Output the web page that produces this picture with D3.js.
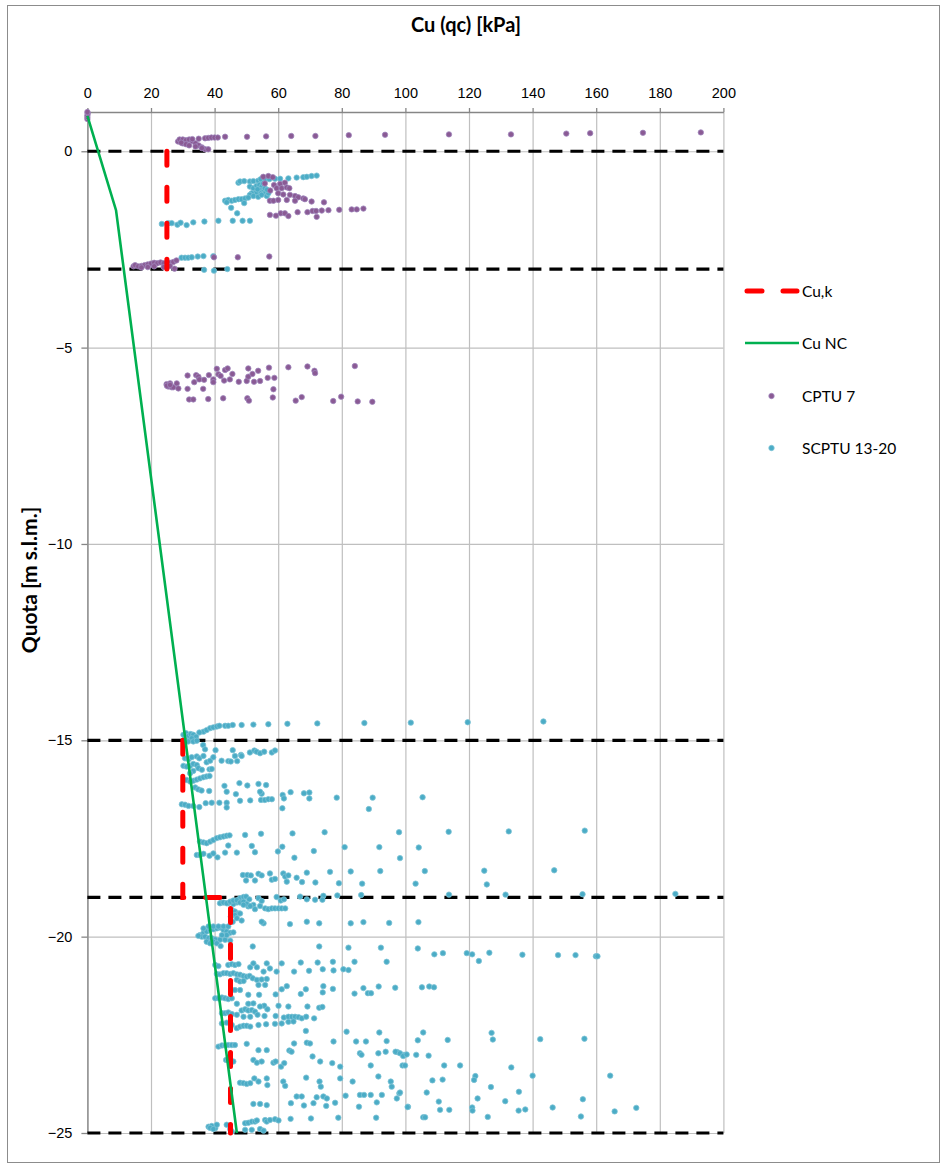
<!DOCTYPE html>
<html>
<head>
<meta charset="utf-8">
<script src="https://cdn.jsdelivr.net/npm/d3@7"></script>
<style>
  body { margin: 0; background: #fff; }
  svg { font-family: Lato, "Open Sans", sans-serif; }
</style>
</head>
<body>
<svg id="chart" width="947" height="1166"></svg>
<script>
// axis ticks
const xTicks = [0, 20, 40, 60, 80, 100, 120, 140, 160, 180, 200];
const yTicks = [0, -5, -10, -15, -20, -25];

// layer boundaries (black dashed lines)
const layerDepths = [0, -3, -15, -19, -25];

// Cu,k design profile (two separate pieces)
const cuK = [
  [[25, 0], [25, -3]],
  [[30, -15], [30, -19], [45, -19], [45, -25]]
];

// Cu NC line
const cuNC = [[0, 0.9], [9, -1.5], [47, -25]];

// CPTU 7 points [Cu, quota]
const cptu7 = [
  [0, 0.82], [0, 0.87], [0, 0.92], [0.1, 0.97], [0, 1.0],
  [28.5, 0.25], [29, 0.3], [30, 0.3], [31, 0.28], [32, 0.3], [33, 0.26], [34, 0.2], [35, 0.15], [36, 0.1],
  [37, 0.05], [38, 0.05], [33, 0.31], [35, 0.32], [37, 0.33], [38, 0.34], [39, 0.35], [40, 0.35], [41, 0.35],
  [30, 0.2], [31, 0.18], [32, 0.15], [34, 0.12], [36, 0.08], [29.5, 0.22],
  [43.3, 0.37], [50.2, 0.37], [56.2, 0.38], [64.1, 0.39], [71.7, 0.39], [82.2, 0.41], [93.6, 0.42],
  [113.7, 0.43], [133.2, 0.43], [150.6, 0.45], [158.1, 0.46], [174.7, 0.47], [192.9, 0.48],
  [55.3, -0.65], [56.9, -0.63], [58.3, -0.66], [55.8, -0.82], [58.7, -0.86], [60.6, -0.83], [62.1, -0.8],
  [59.5, -0.94], [61.1, -0.94], [62.7, -0.92], [63.5, -0.94], [60.0, -1.07], [61.6, -1.1], [63.7, -1.11],
  [65.3, -1.14], [66.3, -1.17], [67.9, -1.2], [68.4, -1.22], [70.5, -1.28], [74.4, -1.3], [57.4, -1.26],
  [58.5, -1.26], [60.0, -1.24], [62.7, -1.24], [65.3, -1.26], [57.4, -1.62], [59.3, -1.64], [60.8, -1.58],
  [62.1, -1.58], [63.2, -1.65], [66.1, -1.55], [69.2, -1.55], [70.8, -1.52], [71.9, -1.52], [73.7, -1.51],
  [75.8, -1.5], [79.2, -1.49], [83.1, -1.48], [84.7, -1.48], [86.8, -1.46], [72.1, -1.67], [57.5, -1.0],
  [14.5, -2.93], [15, -2.9], [16, -2.93], [17, -2.92], [18, -2.9], [19, -2.88], [20, -2.86], [21, -2.84],
  [22, -2.85], [23, -2.83], [24, -2.85], [26, -2.84], [27, -2.82], [28, -2.78], [17, -2.96], [19, -2.95],
  [21, -2.93], [24, -2.95], [26, -2.92], [27.4, -2.99], [39.8, -2.7], [47.3, -2.7], [57.2, -2.68],
  [24.9, -5.93], [25.4, -5.99], [26.0, -5.91], [26.5, -6.01], [27.0, -6.01], [28.1, -5.91], [28.6, -6.04],
  [25, -5.97], [26, -5.95], [31.5, -5.71], [31.5, -6.05], [32.0, -6.32], [33.3, -6.32], [33.6, -5.88],
  [34.2, -5.7], [34.9, -5.74], [35.2, -5.81], [36.4, -6.05], [36.7, -5.82], [38.0, -6.31], [38.2, -5.7],
  [39.6, -5.81], [39.6, -5.88], [40.7, -5.54], [41.2, -5.68], [41.9, -5.72], [42.7, -6.29], [43.0, -5.84],
  [43.3, -5.57], [44.1, -5.53], [44.8, -5.81], [45.6, -5.67], [47.6, -5.87], [50.1, -5.85], [50.3, -6.29],
  [50.6, -5.53], [50.8, -6.35], [50.6, -5.74], [51.9, -5.67], [52.4, -5.87], [53.7, -5.59], [54.3, -5.85],
  [56.7, -5.77], [57.1, -5.51], [58.3, -6.27], [58.5, -6.06], [58.8, -5.77], [63.2, -5.5], [65.5, -6.35],
  [67.4, -6.26], [69.2, -5.48], [71.4, -5.59], [71.6, -5.65], [77.3, -6.36], [79.8, -6.25], [84.1, -5.47],
  [85.0, -6.37], [89.6, -6.38]
];

// SCPTU 13-20 points [Cu, quota]
const scptu = [
  // upper layer
  [47.5, -0.8], [48.0, -0.77], [49.3, -0.76], [51.1, -0.77], [52.2, -0.76], [53.7, -0.75], [54.5, -0.71],
  [55.8, -0.71], [57.2, -0.71], [59.0, -0.7], [60.6, -0.7], [63.2, -0.69], [65.8, -0.67], [67.9, -0.66],
  [69.0, -0.65], [70.5, -0.63], [72.1, -0.62],
  [51.1, -0.9], [52.2, -0.94], [53.2, -0.88], [54.1, -0.86], [54.8, -0.9], [54.3, -0.99], [55.3, -1.03],
  [55.8, -1.07], [54.3, -1.07], [53.0, -1.05], [51.7, -1.07], [51.1, -1.11], [52.2, -1.14], [53.7, -1.16],
  [54.8, -1.11], [56.4, -1.14], [56.9, -1.07], [55.8, -0.94], [55.3, -0.82], [53.5, -0.97], [56.5, -0.98],
  [43.3, -1.26], [44.3, -1.24], [45.4, -1.26], [46.4, -1.24], [47.5, -1.22], [48.5, -1.22], [49.6, -1.2],
  [50.6, -1.18], [49.3, -1.32], [45.2, -1.44], [47.1, -1.58], [43.8, -1.3],
  [23.4, -1.85], [25.4, -1.83], [26.5, -1.83], [28.3, -1.87], [29.3, -1.82], [31.2, -1.88], [33.3, -1.81],
  [36.8, -1.79], [41.2, -1.77], [45.7, -1.77], [48.8, -1.77], [51.1, -1.77],
  [29.6, -2.71], [30.7, -2.71], [31.7, -2.71], [32.8, -2.7], [34.7, -2.68], [36.5, -2.67], [39.6, -2.67],
  [36.7, -3.02], [39.8, -3.04], [44.0, -3.0],
  // -14.5 .. -15.5
  [36.5, -14.78], [37.5, -14.74], [38.6, -14.69], [39.6, -14.67], [40.7, -14.65], [41.5, -14.63],
  [43.3, -14.63], [44.3, -14.63], [45.7, -14.61], [48.5, -14.61], [52.2, -14.6], [56.9, -14.59],
  [62.9, -14.58], [72.3, -14.57], [87.1, -14.56], [101.7, -14.55], [119.6, -14.54], [143.4, -14.52],
  [30.2, -14.86], [31.0, -14.82], [31.7, -14.89], [32.5, -14.84], [33.3, -14.86], [34.2, -14.91],
  [32.8, -14.95], [30.7, -14.97], [31.7, -15.03], [33.3, -15.03], [34.4, -15.01], [35.2, -14.8], [36.4, -15.12],
  [37.0, -15.23], [40.3, -15.25], [45.7, -15.25], [48.3, -15.37], [51.1, -15.31], [52.5, -15.26],
  [53.2, -15.29], [54.3, -15.33], [55.6, -15.29], [58.0, -15.31], [59.0, -15.26], [46.4, -15.4],
  [47.1, -15.53], [44.3, -15.53], [45.1, -15.54], [42.2, -15.52], [48.5, -15.4],
  [30.7, -15.46], [31.8, -15.48], [32.8, -15.43], [34.4, -15.41], [35.2, -15.46], [36.5, -15.4],
  [37.5, -15.56], [38.6, -15.52], [39.6, -15.43], [30.2, -15.65], [31.2, -15.67], [32.3, -15.65],
  [33.3, -15.6], [34.4, -15.63], [34.9, -15.71], [36.0, -15.75], [38.4, -15.74], [39.1, -15.73],
  [33.3, -15.78], [32.3, -15.84], [31.2, -16.01], [32.3, -16.05], [33.3, -16.03], [34.4, -16.0],
  [35.4, -15.97], [36.5, -15.94], [37.5, -15.92], [38.4, -15.91], [33.9, -16.2], [34.9, -16.25],
  [35.9, -16.28], [38.3, -16.29],
  // -16 .. -17
  [43.1, -16.16], [43.8, -16.31], [46.7, -16.37], [47.8, -16.09], [50.3, -16.15], [53.8, -16.11],
  [54.8, -16.36], [54.3, -16.31], [56.2, -16.14], [48.0, -16.54], [51.2, -16.53], [54.6, -16.52],
  [55.8, -16.52], [56.9, -16.5], [58.0, -16.5], [61.4, -16.39], [61.8, -16.48], [63.9, -16.32],
  [68.1, -16.35], [69.8, -16.33], [69.8, -16.48], [61.3, -16.73], [78.4, -16.46], [89.7, -16.46],
  [88.5, -16.75], [105.4, -16.45],
  [29.7, -16.63], [30.7, -16.64], [31.8, -16.67], [33.3, -16.67], [35.2, -16.7], [37.2, -16.6],
  [39.1, -16.59], [41.5, -16.59], [43.8, -16.59], [43.8, -16.71],
  // -17.3 .. -18
  [35.4, -17.58], [36.5, -17.6], [37.5, -17.62], [38.6, -17.58], [39.6, -17.54], [40.7, -17.49],
  [41.7, -17.47], [42.8, -17.45], [43.8, -17.43], [44.7, -17.42], [49.6, -17.41], [54.6, -17.38],
  [34.4, -17.92], [35.4, -17.92], [36.5, -17.89], [38.4, -17.94], [39.6, -17.88], [40.9, -17.98],
  [43.3, -17.86], [44.3, -17.68], [47.0, -17.86], [51.7, -17.69], [52.7, -17.85], [59.9, -17.83],
  [61.3, -17.71], [64.5, -17.37], [65.1, -17.99], [71.2, -17.82], [74.6, -17.34], [80.9, -17.72],
  [91.8, -17.72], [98.0, -17.34], [98.3, -18.0], [104.2, -17.73], [113.6, -17.33], [132.5, -17.32],
  [156.4, -17.3],
  // -18.3 .. -18.7
  [48.9, -18.43], [50.3, -18.43], [51.4, -18.44], [49.9, -18.57], [52.7, -18.57], [53.8, -18.4],
  [54.8, -18.44], [57.4, -18.39], [58.0, -18.55], [59.0, -18.53], [61.6, -18.39], [62.2, -18.47],
  [63.2, -18.44], [62.7, -18.6], [65.8, -18.5], [67.5, -18.61], [69.0, -18.37], [71.7, -18.62],
  [76.3, -18.35], [79.1, -18.64], [82.8, -18.34], [86.4, -18.65], [92.1, -18.33], [103.2, -18.65],
  [106.1, -18.33], [124.8, -18.32], [125.6, -18.67], [146.8, -18.31],
  // -18.9 .. -19.7
  [113.7, -18.93], [131.5, -18.93], [155.7, -18.92], [184.9, -18.91],
  [48.0, -19.02], [49.1, -18.99], [49.9, -18.98], [50.9, -19.05], [47.0, -19.13], [45.9, -19.17],
  [44.3, -19.15], [42.2, -19.13], [49.6, -19.15], [50.6, -19.23], [52.2, -19.19], [53.8, -19.02],
  [54.8, -19.09], [55.9, -19.28], [56.9, -19.3], [58.0, -19.28], [59.0, -19.28], [60.1, -19.28],
  [61.1, -19.28], [62.2, -19.28], [59.5, -18.99], [60.8, -19.08], [61.8, -19.05], [66.9, -18.98],
  [69.0, -19.05], [71.6, -19.06], [74.2, -18.96], [73.9, -19.06], [78.6, -18.95], [86.1, -18.94],
  [41.7, -19.15], [42.8, -19.13], [43.8, -19.15], [44.9, -19.11], [45.9, -19.08], [47.0, -19.07],
  [48.0, -19.13], [49.1, -19.11], [50.1, -19.17], [51.2, -19.22], [45.4, -19.32], [46.4, -19.36],
  [47.5, -19.41], [46.4, -19.45], [45.1, -19.49], [47.0, -19.53], [48.5, -19.59], [45.7, -19.62],
  [48.0, -19.41], [49.1, -19.19], [52.7, -19.3], [54.3, -19.22], [55.4, -19.66], [54.8, -19.62],
  [63.7, -19.68], [69.0, -19.62], [72.9, -19.66], [82.8, -19.66], [86.8, -19.63], [94.9, -19.65],
  [104.1, -19.63],
  // -19.7 .. -20.3
  [35.4, -19.96], [36.5, -19.91], [37.5, -19.87], [38.6, -19.83], [39.6, -19.81], [40.7, -19.79],
  [41.7, -19.77], [42.8, -19.83], [43.8, -19.87], [44.9, -19.9], [45.9, -19.89], [36.0, -20.0],
  [37.0, -20.0], [38.1, -20.04], [39.1, -20.04], [40.2, -20.07], [37.5, -20.13], [38.6, -20.17],
  [39.6, -20.13], [41.7, -20.08], [43.3, -20.08], [44.9, -20.1], [43.8, -19.96], [42.3, -19.96],
  [38.1, -19.74], [39.6, -19.74], [41.2, -19.74], [42.8, -19.74], [44.3, -19.74], [34.9, -19.98],
  [36.5, -19.79], [40.7, -20.17], [41.9, -20.24], [52.0, -20.25],
  // -20.2 .. -21
  [40.2, -20.72], [41.2, -20.75], [44.3, -20.72], [45.4, -20.7], [46.4, -20.72], [47.5, -20.7],
  [51.2, -20.78], [52.2, -20.68], [53.3, -20.78], [56.4, -20.68], [57.4, -20.81], [55.4, -20.89],
  [59.5, -20.89], [61.1, -20.68], [65.0, -20.89], [67.1, -20.66], [69.7, -20.87], [72.4, -20.66],
  [72.9, -20.25], [74.0, -20.83], [77.4, -20.86], [77.2, -20.64], [80.5, -20.83], [82.1, -20.85],
  [84.0, -20.64], [82.1, -20.28], [92.3, -20.28], [94.1, -20.64], [103.9, -20.3], [109.1, -20.45],
  [111.8, -20.42], [119.3, -20.42], [121.0, -20.45], [123.1, -20.62], [126.4, -20.41], [136.8, -20.46],
  [148.0, -20.47], [153.5, -20.47], [159.9, -20.5], [160.4, -20.5],
  // -21 .. -21.5
  [40.7, -20.95], [41.7, -20.96], [42.8, -20.93], [43.8, -20.93], [44.9, -20.95], [45.9, -20.93],
  [47.0, -20.96], [48.0, -20.97], [49.1, -21.0], [50.1, -21.02], [51.0, -21.0], [52.0, -21.06],
  [53.3, -21.1], [54.8, -21.09], [56.4, -21.08], [47.0, -21.1], [48.0, -21.14], [49.1, -21.13],
  [53.8, -21.23], [55.9, -21.23], [46.4, -21.36], [48.0, -21.36], [50.6, -21.48], [54.0, -21.48],
  [59.2, -21.47], [61.1, -21.34], [62.7, -21.26], [67.1, -21.46], [68.7, -21.34], [74.0, -21.42],
  [74.2, -21.26], [77.2, -21.33], [84.0, -21.45], [86.8, -21.31], [88.2, -21.44], [89.2, -21.44],
  [91.6, -21.27], [96.8, -21.3], [105.2, -21.29], [107.5, -21.27], [109.0, -21.29],
  // -21.5 .. -22.5
  [40.2, -21.57], [41.2, -21.57], [42.3, -21.55], [43.3, -21.57], [44.3, -21.59], [45.4, -21.57],
  [42.3, -21.95], [43.3, -21.95], [44.3, -21.93], [45.4, -21.97], [47.0, -21.99], [48.5, -21.88],
  [49.6, -21.85], [50.6, -21.88], [51.7, -21.87], [52.7, -21.91], [53.5, -21.99], [55.6, -21.76],
  [56.6, -21.85], [60.1, -21.76], [63.2, -21.78], [69.2, -21.78], [72.9, -21.81], [73.9, -21.79],
  [55.7, -22.02], [59.2, -22.02], [61.8, -22.06], [63.2, -22.04], [64.3, -22.04], [65.3, -22.04],
  [66.4, -22.05], [67.4, -22.08], [68.8, -22.04], [71.3, -22.08], [42.3, -22.21], [43.8, -22.19],
  [45.4, -22.25], [47.0, -22.33], [48.0, -22.29], [49.1, -22.27], [50.1, -22.27], [51.2, -22.29],
  [53.8, -22.25], [56.2, -22.23], [59.0, -22.22], [61.1, -22.21], [63.2, -22.17], [64.8, -22.16],
  [68.7, -22.4], [81.5, -22.42], [91.8, -22.44], [47.0, -21.71], [50.6, -21.71], [52.2, -21.7],
  [54.3, -21.78], [49.1, -22.04], [51.2, -22.04],
  [105.6, -22.44], [103.9, -22.64], [113.3, -22.63], [127.1, -22.45], [127.5, -22.62], [142.4, -22.61],
  [156.3, -22.6],
  // -22.5 .. -23.4
  [41.2, -22.8], [42.3, -22.77], [43.3, -22.77], [44.3, -22.76], [45.4, -22.76], [46.4, -22.76],
  [43.6, -23.14], [44.3, -23.14], [45.1, -23.18], [45.9, -23.18], [50.1, -22.73], [53.8, -22.89],
  [56.4, -22.89], [65.0, -22.72], [69.0, -22.7], [70.0, -22.72], [77.4, -22.67], [84.5, -22.67],
  [87.6, -22.67], [94.1, -22.66], [97.5, -22.94], [99.6, -23.01], [103.4, -23.01], [52.2, -23.14],
  [53.3, -23.21], [54.8, -23.18], [58.5, -23.21], [59.2, -23.18], [60.9, -23.31], [61.9, -23.22],
  [63.5, -22.9], [64.2, -22.93], [70.8, -23.05], [73.2, -23.18], [77.0, -23.22], [79.5, -23.31],
  [85.7, -22.97], [86.2, -23.01], [89.1, -23.28], [91.5, -22.97], [93.8, -22.93], [96.9, -22.93],
  [98.3, -22.97], [99.3, -23.04], [100.4, -23.0], [107.3, -23.03], [99.1, -23.28], [99.9, -23.28],
  [112.2, -23.28], [117.2, -23.28], [133.3, -23.33],
  // -23.5 .. -24.5
  [48.0, -23.72], [49.1, -23.73], [50.1, -23.75], [51.2, -23.73], [52.5, -23.61], [53.8, -23.69],
  [56.4, -23.61], [56.6, -23.78], [61.6, -23.69], [62.2, -23.8], [68.8, -23.59], [73.0, -23.69],
  [73.4, -23.82], [79.5, -23.61], [83.4, -23.69], [85.7, -24.03], [87.0, -24.03], [89.1, -24.03],
  [91.5, -23.56], [92.6, -24.03], [95.4, -23.69], [95.7, -23.82], [97.3, -24.12], [98.1, -23.99],
  [140.0, -23.54], [164.4, -23.54], [122.0, -23.55], [121.6, -23.65], [108.5, -23.66], [111.7, -23.64],
  [126.9, -23.83], [106.7, -23.97], [98.3, -23.97], [135.7, -23.95],
  [52.2, -24.26], [54.3, -24.26], [56.4, -24.29], [64.0, -24.24], [65.8, -24.07], [67.4, -24.07],
  [68.1, -24.3], [71.1, -24.24], [72.1, -24.09], [74.2, -24.07], [75.1, -24.31], [75.3, -24.12],
  [77.9, -24.23], [81.2, -24.05], [85.4, -24.33], [91.0, -24.22], [100.8, -24.33], [110.5, -24.2],
  [122.7, -24.12], [131.4, -24.19], [155.8, -24.14], [100.7, -24.34], [110.9, -24.41], [113.8, -24.41],
  [121.0, -24.35], [121.1, -24.43], [135.6, -24.43], [137.7, -24.4], [146.3, -24.35], [165.8, -24.45],
  [172.6, -24.36],
  // -24.5 .. -25
  [105.6, -24.6], [90.8, -24.61], [78.9, -24.61], [70.3, -24.63], [63.9, -24.64], [106.2, -24.6],
  [125.9, -24.59], [155.2, -24.58],
  [38.1, -24.84], [39.1, -24.82], [40.2, -24.88], [40.7, -24.79], [43.8, -24.79], [44.9, -24.9],
  [49.6, -24.75], [50.6, -24.74], [51.7, -24.71], [52.7, -24.71], [53.3, -24.68], [55.9, -24.67],
  [56.4, -24.71], [57.4, -24.67], [59.0, -24.65], [60.1, -24.68], [49.6, -24.92], [51.7, -24.92],
  [54.3, -24.9], [55.4, -24.94], [45.4, -24.96], [38.6, -24.87], [39.6, -24.9]
];

const svg = d3.select("#chart");

// chart frame
svg.append("rect")
  .attr("x", 7.5).attr("y", 5.5)
  .attr("width", 932).attr("height", 1157)
  .attr("fill", "#fff").attr("stroke", "#8c8c8c").attr("stroke-width", 1);

const x = d3.scaleLinear().domain([0, 200]).range([87.4, 723.4]);
const y = d3.scaleLinear().domain([-25, 1]).range([1133, 112]);

// gridlines
svg.append("g")
  .attr("transform", `translate(0,${y(1)})`)
  .call(d3.axisTop(x).tickValues(xTicks).tickSize(-(y(-25) - y(1))).tickFormat(""))
  .call(g => g.select(".domain").remove())
  .selectAll("line").attr("stroke", "#bfbfbf").attr("stroke-width", 1.2);

svg.append("g")
  .attr("transform", `translate(${x(0)},0)`)
  .call(d3.axisLeft(y).tickValues(yTicks).tickSize(-(x(200) - x(0))).tickFormat(""))
  .call(g => g.select(".domain").remove())
  .selectAll("line").attr("stroke", "#bfbfbf").attr("stroke-width", 1.2);

// axes
const xAxis = svg.append("g")
  .attr("transform", `translate(0,${y(1)})`)
  .call(d3.axisTop(x).tickValues(xTicks).tickSize(4).tickSizeOuter(0).tickPadding(10));
xAxis.select(".domain").attr("stroke", "#868686").attr("stroke-width", 1.3);
xAxis.selectAll(".tick line").attr("stroke", "#868686").attr("stroke-width", 1.3);
xAxis.selectAll("text").attr("font-size", 14.5).attr("fill", "#000");

const yAxis = svg.append("g")
  .attr("transform", `translate(${x(0)},0)`)
  .call(d3.axisLeft(y).tickValues(yTicks).tickSize(6).tickSizeOuter(0).tickPadding(9));
yAxis.select(".domain").attr("stroke", "#868686").attr("stroke-width", 1.3);
yAxis.selectAll(".tick line").attr("stroke", "#868686").attr("stroke-width", 1.3);
yAxis.selectAll("text").attr("font-size", 14.5).attr("fill", "#000");

// layer boundaries
svg.append("g").selectAll("line")
  .data(layerDepths)
  .enter()
  .append("line")
  .attr("x1", x(0)).attr("x2", x(200))
  .attr("y1", d => y(d)).attr("y2", d => y(d))
  .attr("stroke", "#000")
  .attr("stroke-width", 3.2)
  .attr("stroke-dasharray", "13,8");

// scatter
function dots(data, color, stroke) {
  svg.append("g").selectAll("circle")
    .data(data)
    .enter()
    .append("circle")
    .attr("cx", d => x(d[0]))
    .attr("cy", d => y(d[1]))
    .attr("r", 2.7)
    .attr("fill", color)
    .attr("stroke", stroke)
    .attr("stroke-width", 0.8);
}
dots(scptu, "#4bacc6", "#7cc3d6");
dots(cptu7, "#8a5a94", "#9f86bd");

const line = d3.line().x(d => x(d[0])).y(d => y(d[1]));

// Cu,k
svg.append("g").selectAll("path")
  .data(cuK)
  .enter()
  .append("path")
  .attr("d", line)
  .attr("fill", "none")
  .attr("stroke", "#ff0000")
  .attr("stroke-width", 5)
  .attr("stroke-linecap", "round")
  .attr("stroke-dasharray", "14,22");

// Cu NC
svg.append("path")
  .attr("d", line(cuNC))
  .attr("fill", "none")
  .attr("stroke", "#00b050")
  .attr("stroke-width", 2.6);

// titles
svg.append("text")
  .attr("x", 466).attr("y", 32)
  .attr("text-anchor", "middle")
  .attr("font-size", 20).attr("font-weight", "bold")
  .text("Cu (qc) [kPa]");

svg.append("text")
  .attr("transform", "translate(37,580) rotate(-90)")
  .attr("text-anchor", "middle")
  .attr("font-size", 21).attr("font-weight", "bold")
  .text("Quota [m s.l.m.]");

// legend
const legend = svg.append("g").attr("font-size", 15.5);
const lg1 = legend.append("g").attr("transform", "translate(0,291)");
lg1.append("line").attr("x1", 747).attr("x2", 797).attr("y1", 0).attr("y2", 0)
  .attr("stroke", "#ff0000").attr("stroke-width", 5).attr("stroke-linecap", "round")
  .attr("stroke-dasharray", "15,21");
lg1.append("text").attr("x", 802).attr("y", 5.5).text("Cu,k");

const lg2 = legend.append("g").attr("transform", "translate(0,343)");
lg2.append("line").attr("x1", 745).attr("x2", 799).attr("y1", 0).attr("y2", 0)
  .attr("stroke", "#00b050").attr("stroke-width", 2.6);
lg2.append("text").attr("x", 802).attr("y", 5.5).text("Cu NC");

const lg3 = legend.append("g").attr("transform", "translate(0,396)");
lg3.append("circle").attr("cx", 771.5).attr("cy", 0).attr("r", 2.7)
  .attr("fill", "#8a5a94").attr("stroke", "#9f86bd").attr("stroke-width", 0.8);
lg3.append("text").attr("x", 802).attr("y", 5.5).text("CPTU 7");

const lg4 = legend.append("g").attr("transform", "translate(0,448)");
lg4.append("circle").attr("cx", 771.5).attr("cy", 0).attr("r", 2.7)
  .attr("fill", "#4bacc6").attr("stroke", "#7cc3d6").attr("stroke-width", 0.8);
lg4.append("text").attr("x", 802).attr("y", 5.5).text("SCPTU 13-20");
</script>
</body>
</html>
